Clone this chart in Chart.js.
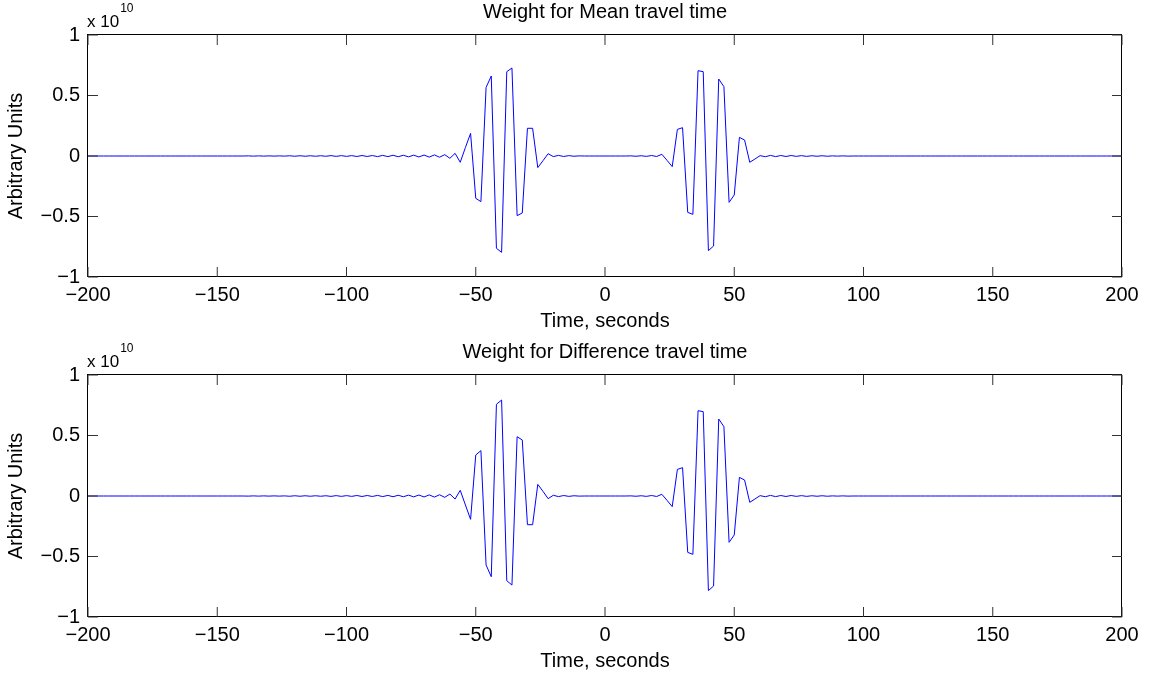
<!DOCTYPE html>
<html>
<head>
<meta charset="utf-8">
<title>Travel time weights</title>
<script src="https://cdn.jsdelivr.net/npm/chart.js@4.4.1/dist/chart.umd.min.js"></script>
<style>
  html, body { margin: 0; padding: 0; background: #fff; overflow: hidden; }
  .panel { position: absolute; left: 0; }
</style>
</head>
<body>
<canvas id="meanPlot" class="panel" width="1149" height="338" style="top:0"></canvas>
<canvas id="diffPlot" class="panel" width="1149" height="338" style="top:340px"></canvas>
<script>
// time axis, seconds (2 s sampling)
const times = [];
for (let t = -200; t <= 200; t += 2) times.push(t);

// weights in units of 1e10, one value per sample (rows of 10 samples)
const meanWeight = [
  0, 0, 0, 0, 0, 0, 0, 0, 0, 0,                                              // -200
  0, 0, 0, 0, 0, 0, 0, 0, 0, 0,                                              // -180
  0, 0, 0, 0, 0, 0, 0, 0, 0, 0,                                              // -160
  0, 0.001, -0.001, 0.001, -0.001, 0.001, -0.001, 0.001, -0.001, 0.002,      // -140
  -0.002, 0.002, -0.002, 0.002, -0.002, 0.002, -0.002, 0.003, -0.003, 0.003, // -120
  -0.003, 0.003, -0.004, 0.004, -0.004, 0.004, -0.005, 0.005, -0.005, 0.006, // -100
  -0.006, 0.006, -0.007, 0.007, -0.008, 0.008, -0.009, 0.009, -0.010, 0.011, // -80
  -0.019, 0.022, -0.052, 0.070, 0.187, -0.350, -0.377, 0.567, 0.661, -0.763, // -60
  -0.796, 0.697, 0.727, -0.493, -0.471, 0.229, 0.229, -0.096, -0.039, 0.019, // -40
  -0.005, 0.005, -0.004, 0.003, -0.002, 0.001, 0, 0, 0, 0,                   // -20
  0, 0, 0, 0, 0, 0.001, -0.002, 0.002, -0.003, 0.004,                        // 0
  -0.004, 0.014, -0.036, -0.088, 0.220, 0.234, -0.466, -0.482, 0.705, 0.697, // 20
  -0.782, -0.744, 0.636, 0.573, -0.383, -0.322, 0.154, 0.132, -0.052, -0.025,// 40
  0.003, -0.006, 0.005, -0.005, 0.004, -0.004, 0.004, -0.003, 0.003, -0.003, // 60
  0.002, -0.002, 0.002, -0.002, 0.001, -0.001, 0.001, -0.001, 0, 0,          // 80
  0, 0, 0, 0, 0, 0, 0, 0, 0, 0,                                              // 100
  0, 0, 0, 0, 0, 0, 0, 0, 0, 0,                                              // 120
  0, 0, 0, 0, 0, 0, 0, 0, 0, 0,                                              // 140
  0, 0, 0, 0, 0, 0, 0, 0, 0, 0,                                              // 160
  0, 0, 0, 0, 0, 0, 0, 0, 0, 0,                                              // 180
  0                                                                          // 200
];

const diffWeight = [
  0, 0, 0, 0, 0, 0, 0, 0, 0, 0,                                              // -200
  0, 0, 0, 0, 0, 0, 0, 0, 0, 0,                                              // -180
  0, 0, 0, 0, 0, 0, 0, 0, 0, 0,                                              // -160
  0, -0.001, 0.001, -0.001, 0.001, -0.001, 0.001, -0.001, 0.001, -0.002,     // -140
  0.002, -0.002, 0.002, -0.002, 0.002, -0.002, 0.002, -0.003, 0.003, -0.003, // -120
  0.003, -0.003, 0.004, -0.004, 0.004, -0.004, 0.005, -0.005, 0.005, -0.006, // -100
  0.006, -0.006, 0.007, -0.007, 0.008, -0.008, 0.009, -0.009, 0.010, -0.011, // -80
  0.016, -0.025, 0.047, -0.074, -0.193, 0.339, 0.375, -0.570, -0.667, 0.758, // -60
  0.793, -0.700, -0.736, 0.490, 0.463, -0.237, -0.237, 0.096, 0.039, -0.022, // -40
  0.006, -0.005, 0.004, -0.003, 0.002, -0.001, 0, 0, 0, 0,                   // -20
  0, 0, 0, 0, 0, 0.001, -0.002, 0.002, -0.003, 0.004,                        // 0
  -0.004, 0.014, -0.036, -0.088, 0.220, 0.234, -0.466, -0.482, 0.705, 0.697, // 20
  -0.782, -0.744, 0.636, 0.573, -0.383, -0.322, 0.154, 0.132, -0.052, -0.025,// 40
  0.003, -0.006, 0.005, -0.005, 0.004, -0.004, 0.004, -0.003, 0.003, -0.003, // 60
  0.002, -0.002, 0.002, -0.002, 0.001, -0.001, 0.001, -0.001, 0, 0,          // 80
  0, 0, 0, 0, 0, 0, 0, 0, 0, 0,                                              // 100
  0, 0, 0, 0, 0, 0, 0, 0, 0, 0,                                              // 120
  0, 0, 0, 0, 0, 0, 0, 0, 0, 0,                                              // 140
  0, 0, 0, 0, 0, 0, 0, 0, 0, 0,                                              // 160
  0, 0, 0, 0, 0, 0, 0, 0, 0, 0,                                              // 180
  0                                                                          // 200
];

const xTickValues = [-200, -150, -100, -50, 0, 50, 100, 150, 200];
const yTickValues = [-1, -0.5, 0, 0.5, 1];

const FONT = '"Liberation Sans", Arial, Helvetica, sans-serif';
const TICK = 10;

Chart.defaults.font.family = FONT;
Chart.defaults.font.size = 20;
Chart.defaults.color = '#000';

function fmt(v) {
  return v < 0 ? '\u2212' + Math.abs(v) : String(v);
}

// box around the axes with inward ticks, title and the exponent label
const framePlugin = {
  id: 'frame',
  afterDraw(chart, args, opts) {
    const { ctx, chartArea: a, scales: { x, y } } = chart;
    ctx.save();
    ctx.strokeStyle = '#000';
    ctx.lineWidth = 1;
    ctx.strokeRect(Math.round(a.left) - 0.5, Math.round(a.top) - 0.5,
                   Math.round(a.right - a.left), Math.round(a.bottom - a.top));

    ctx.strokeStyle = '#333';
    ctx.beginPath();
    x.ticks.forEach(t => {
      const px = x.getPixelForValue(t.value);
      ctx.moveTo(px, a.bottom); ctx.lineTo(px, a.bottom - TICK);
      ctx.moveTo(px, a.top); ctx.lineTo(px, a.top + TICK);
    });
    y.ticks.forEach(t => {
      const py = y.getPixelForValue(t.value);
      ctx.moveTo(a.left, py); ctx.lineTo(a.left + TICK, py);
      ctx.moveTo(a.right, py); ctx.lineTo(a.right - TICK, py);
    });
    ctx.stroke();

    ctx.fillStyle = '#000';
    ctx.textBaseline = 'alphabetic';
    ctx.textAlign = 'center';
    ctx.font = '20px ' + FONT;
    ctx.fillText(opts.text, (a.left + a.right) / 2, a.top - 17);

    ctx.textAlign = 'left';
    ctx.font = '17px ' + FONT;
    const base = 'x 10';
    ctx.fillText(base, a.left - 1, a.top - 8);
    const w = ctx.measureText(base).width;
    ctx.font = '12px ' + FONT;
    ctx.fillText('10', a.left + w, a.top - 23);
    ctx.restore();
  }
};

function makePanel(id, title, values) {
  const points = times.map((t, i) => ({ x: t, y: values[i] }));
  return new Chart(document.getElementById(id), {
    type: 'line',
    data: {
      datasets: [{
        data: points,
        borderColor: '#0000ff',
        borderWidth: 1,
        pointRadius: 0,
        tension: 0,
        fill: false
      }]
    },
    options: {
      responsive: false,
      animation: false,
      events: [],
      layout: { padding: { left: 0, right: 27, top: 35, bottom: 0 } },
      plugins: {
        legend: { display: false },
        tooltip: { enabled: false },
        frame: { text: title }
      },
      scales: {
        x: {
          type: 'linear',
          min: -200,
          max: 200,
          grid: { display: false, drawTicks: false },
          border: { display: false },
          afterBuildTicks: s => { s.ticks = xTickValues.map(v => ({ value: v })); },
          afterFit: s => { s.height = 61; },
          ticks: { padding: 6, autoSkip: false, maxRotation: 0, callback: v => fmt(v) },
          title: { display: true, text: 'Time, seconds', padding: { top: 0, bottom: 5 } }
        },
        y: {
          min: -1,
          max: 1,
          grid: { display: false, drawTicks: false },
          border: { display: false },
          afterBuildTicks: s => { s.ticks = yTickValues.map(v => ({ value: v })); },
          afterFit: s => { s.width = 88; },
          ticks: { padding: 8, callback: v => fmt(v) },
          title: { display: true, text: 'Arbitrary Units', padding: { top: 4, bottom: 0 } }
        }
      }
    },
    plugins: [framePlugin]
  });
}

makePanel('meanPlot', 'Weight for Mean travel time', meanWeight);
makePanel('diffPlot', 'Weight for Difference travel time', diffWeight);
</script>
</body>
</html>
